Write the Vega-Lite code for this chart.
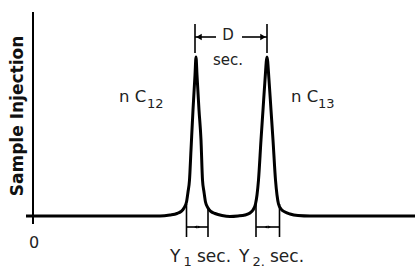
{
  "$schema": "https://vega.github.io/schema/vega-lite/v6.json",
  "width": 415,
  "height": 268,
  "padding": 0,
  "autosize": "none",
  "config": {"view": {"stroke": null}, "font": "DejaVu Sans"},
  "datasets": {
    "curve": [
      {"t": -7, "v": 0}, {"t": 127, "v": 0}, {"t": 137, "v": 1}, {"t": 144, "v": 2.5}, {"t": 148, "v": 4.5},
      {"t": 151, "v": 8}, {"t": 153.5, "v": 14}, {"t": 155, "v": 24}, {"t": 156.5, "v": 36}, {"t": 158, "v": 66},
      {"t": 160, "v": 106}, {"t": 162, "v": 141}, {"t": 163, "v": 159}, {"t": 164, "v": 141}, {"t": 166, "v": 106},
      {"t": 168, "v": 76}, {"t": 169.5, "v": 36}, {"t": 171, "v": 24}, {"t": 172.5, "v": 14}, {"t": 175, "v": 8},
      {"t": 178, "v": 4.5}, {"t": 182, "v": 2.5}, {"t": 189, "v": 0.5}, {"t": 197, "v": -0.5}, {"t": 205, "v": 0},
      {"t": 212, "v": 1}, {"t": 217, "v": 3}, {"t": 220, "v": 6}, {"t": 222.5, "v": 12}, {"t": 224, "v": 21},
      {"t": 225.5, "v": 36}, {"t": 228, "v": 76}, {"t": 230, "v": 106}, {"t": 232, "v": 136}, {"t": 234, "v": 159},
      {"t": 236, "v": 136}, {"t": 238, "v": 106}, {"t": 240, "v": 76}, {"t": 242.5, "v": 36}, {"t": 244, "v": 21},
      {"t": 245.5, "v": 12}, {"t": 248, "v": 7}, {"t": 252, "v": 4}, {"t": 257, "v": 2}, {"t": 265, "v": 0.5},
      {"t": 277, "v": 0}, {"t": 382, "v": 0}
    ],
    "axisline": [{"x": 0, "y": -8, "y2": 204}],
    "segments": [
      {"x": 162, "y": 163, "x2": 162, "y2": 192},
      {"x": 234, "y": 163, "x2": 234, "y2": 192},
      {"x": 162, "y": 179, "x2": 183, "y2": 179},
      {"x": 209, "y": 179, "x2": 234, "y2": 179},
      {"x": 153.5, "y": -21, "x2": 153.5, "y2": 12},
      {"x": 175, "y": -21, "x2": 175, "y2": 8},
      {"x": 223, "y": -21, "x2": 223, "y2": 14},
      {"x": 246.5, "y": -21, "x2": 246.5, "y2": 12},
      {"x": 153.5, "y": -11, "x2": 175, "y2": -11},
      {"x": 223, "y": -11, "x2": 246.5, "y2": -11}
    ],
    "bigheads": [
      {"x": 166, "y": 179, "dir": "left"},
      {"x": 230, "y": 179, "dir": "right"}
    ],
    "smallheads": [
      {"x": 162.5, "y": -11, "dir": "left"},
      {"x": 166, "y": -11, "dir": "right"},
      {"x": 233, "y": -11, "dir": "left"},
      {"x": 236.5, "y": -11, "dir": "right"}
    ],
    "peaktext": [
      {"x": 86, "y": 114, "label": "n C"},
      {"x": 258, "y": 114, "label": "n C"}
    ],
    "bottomtext": [
      {"x": 137, "y": -46, "label": "Y"},
      {"x": 164, "y": -46, "label": "sec."},
      {"x": 206, "y": -46, "label": "Y"},
      {"x": 237, "y": -46, "label": "sec."}
    ],
    "subtext": [
      {"x": 114, "y": 108, "label": "12"},
      {"x": 285, "y": 108, "label": "13"},
      {"x": 150.5, "y": -49.5, "label": "1"},
      {"x": 219.5, "y": -49.5, "label": "2."}
    ],
    "dlabels": [
      {"x": 195, "y": 181, "label": "D"},
      {"x": 195, "y": 156, "label": "sec."}
    ],
    "zero": [{"x": 1, "y": -32, "label": "0"}],
    "ytitle": [{"x": -15, "y": 100, "label": "Sample Injection"}]
  },
  "layer": [
    {
      "data": {"name": "curve"},
      "mark": {"type": "line", "color": "#000000", "strokeWidth": 3, "interpolate": "monotone", "strokeJoin": "round"},
      "encoding": {
        "x": {"field": "t", "type": "quantitative", "scale": {"domain": [-33, 382], "nice": false, "zero": false}, "axis": null},
        "y": {"field": "v", "type": "quantitative", "scale": {"domain": [-52, 216], "nice": false, "zero": false}, "axis": null}
      }
    },
    {
      "data": {"name": "axisline"},
      "mark": {"type": "rule", "color": "#000000", "strokeWidth": 2},
      "encoding": {
        "x": {"field": "x", "type": "quantitative"},
        "y": {"field": "y", "type": "quantitative"},
        "y2": {"field": "y2"}
      }
    },
    {
      "data": {"name": "segments"},
      "mark": {"type": "rule", "color": "#000000", "strokeWidth": 1.6},
      "encoding": {
        "x": {"field": "x", "type": "quantitative"},
        "y": {"field": "y", "type": "quantitative"},
        "x2": {"field": "x2"},
        "y2": {"field": "y2"}
      }
    },
    {
      "data": {"name": "bigheads"},
      "mark": {"type": "point", "filled": true, "color": "#000000", "opacity": 1, "size": 40},
      "encoding": {
        "x": {"field": "x", "type": "quantitative"},
        "y": {"field": "y", "type": "quantitative"},
        "shape": {"field": "dir", "type": "nominal", "scale": {"domain": ["left", "right"], "range": ["triangle-left", "triangle-right"]}, "legend": null}
      }
    },
    {
      "data": {"name": "smallheads"},
      "mark": {"type": "point", "filled": true, "color": "#000000", "opacity": 1, "size": 10},
      "encoding": {
        "x": {"field": "x", "type": "quantitative"},
        "y": {"field": "y", "type": "quantitative"},
        "shape": {"field": "dir", "type": "nominal", "scale": {"domain": ["left", "right"], "range": ["triangle-left", "triangle-right"]}, "legend": null}
      }
    },
    {
      "data": {"name": "peaktext"},
      "mark": {"type": "text", "fontSize": 16.5, "align": "left", "baseline": "alphabetic", "color": "#222222"},
      "encoding": {
        "x": {"field": "x", "type": "quantitative"},
        "y": {"field": "y", "type": "quantitative"},
        "text": {"field": "label"}
      }
    },
    {
      "data": {"name": "bottomtext"},
      "mark": {"type": "text", "fontSize": 17, "align": "left", "baseline": "alphabetic", "color": "#222222"},
      "encoding": {
        "x": {"field": "x", "type": "quantitative"},
        "y": {"field": "y", "type": "quantitative"},
        "text": {"field": "label"}
      }
    },
    {
      "data": {"name": "subtext"},
      "mark": {"type": "text", "fontSize": 13, "align": "left", "baseline": "alphabetic", "color": "#222222"},
      "encoding": {
        "x": {"field": "x", "type": "quantitative"},
        "y": {"field": "y", "type": "quantitative"},
        "text": {"field": "label"}
      }
    },
    {
      "data": {"name": "dlabels"},
      "mark": {"type": "text", "fontSize": 15, "align": "center", "baseline": "middle", "color": "#222222"},
      "encoding": {
        "x": {"field": "x", "type": "quantitative"},
        "y": {"field": "y", "type": "quantitative"},
        "text": {"field": "label"}
      }
    },
    {
      "data": {"name": "zero"},
      "mark": {"type": "text", "fontSize": 16, "align": "center", "baseline": "alphabetic", "color": "#222222"},
      "encoding": {
        "x": {"field": "x", "type": "quantitative"},
        "y": {"field": "y", "type": "quantitative"},
        "text": {"field": "label"}
      }
    },
    {
      "data": {"name": "ytitle"},
      "mark": {"type": "text", "fontSize": 17, "fontWeight": "bold", "angle": 270, "align": "center", "baseline": "middle", "color": "#111111"},
      "encoding": {
        "x": {"field": "x", "type": "quantitative"},
        "y": {"field": "y", "type": "quantitative"},
        "text": {"field": "label"}
      }
    }
  ]
}
